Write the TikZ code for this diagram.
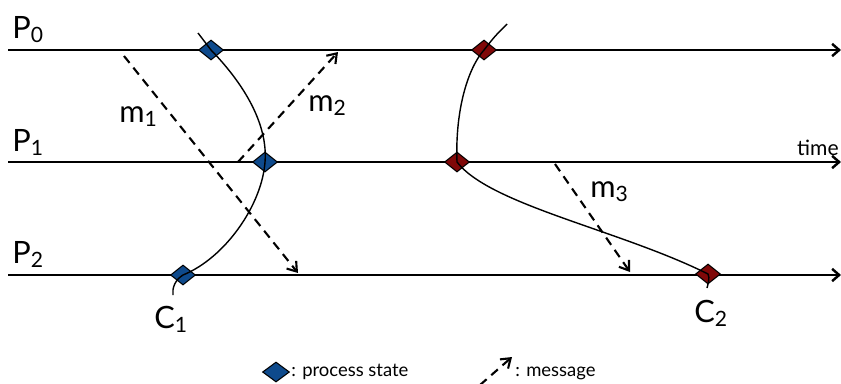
\documentclass[tikz,border=0pt]{standalone}
\usepackage{fontspec}
\setmainfont{Lato}
\usetikzlibrary{shapes.geometric,arrows.meta}
\definecolor{zustblau}{RGB}{14,74,140}
\definecolor{zustrot}{RGB}{128,8,8}
\newcommand{\idx}[1]{\raisebox{-0.3ex}{\fontsize{12}{12}\selectfont #1}}
\tikzset{
  prozess/.style={line width=1.4pt, -{Straight Barb[length=4pt,width=7pt]}},
  zustand/.style={diamond, draw=black, line width=0.6pt, inner sep=0pt,
    minimum width=0.5cm, minimum height=0.4cm},
  nachricht/.style={dash pattern=on 5pt off 3.5pt, line width=1.2pt,
    -{Straight Barb[length=5pt,width=7pt]}},
  schnitt/.style={line width=0.8pt},
  beschr/.style={anchor=base west, inner sep=0pt, font=\fontsize{17.5}{17.5}\selectfont},
  legende/.style={anchor=base west, inner sep=0pt, font=\fontsize{10.5}{10.5}\selectfont},
}
\begin{document}
\begin{tikzpicture}[x=0.02cm, y=-0.02cm]
    \useasboundingbox (0,0) rectangle (841,383);
    \clip (0,0) rectangle (841,383);
    % Prozesslinien:
    \coordinate (p0a) at (8,50);  \coordinate (p0b) at (841,50);
    \coordinate (p1a) at (8,162); \coordinate (p1b) at (841,162);
    \coordinate (p2a) at (8,275); \coordinate (p2b) at (841,275);
    \draw[prozess] (p0a) -- (p0b);
    \draw[prozess] (p1a) -- (p1b);
    \draw[prozess] (p2a) -- (p2b);
    \node[beschr] (lp0) at (12,38) {P\idx{0}};
    \node[beschr] (lp1) at (12,151) {P\idx{1}};
    \node[beschr] (lp2) at (12,263) {P\idx{2}};
    \node[anchor=base east, inner sep=0pt, font=\fontsize{12}{12}\selectfont] (zeit) at (839,155) {time};
    % Nachrichten:
    \coordinate (m1a) at (124,56);  \coordinate (m1b) at (298,273);
    \coordinate (m2a) at (238,162); \coordinate (m2b) at (338,52);
    \coordinate (m3a) at (555,164); \coordinate (m3b) at (630,272);
    \draw[nachricht] (m1a) -- (m1b);
    \draw[nachricht] (m2a) -- (m2b);
    \draw[nachricht] (m3a) -- (m3b);
    \node[beschr] (lm1) at (119,122) {m\idx{1}};
    \node[beschr] (lm2) at (308,111) {m\idx{2}};
    \node[beschr] (lm3) at (590,197) {m\idx{3}};
    % Zustaende:
    \node[zustand, fill=zustblau] (b0) at (211,50) {};
    \node[zustand, fill=zustblau] (b1) at (265,162) {};
    \node[zustand, fill=zustblau] (b2) at (183,275) {};
    \node[zustand, fill=zustrot] (r0) at (484,50) {};
    \node[zustand, fill=zustrot] (r1) at (457,162) {};
    \node[zustand, fill=zustrot] (r2) at (708,274) {};
    % Schnitte:
    \coordinate (c1o) at (198,33);  \coordinate (c1u) at (173,295);
    \coordinate (c2o) at (507,24);  \coordinate (c2u) at (707,288);
    \draw[schnitt] (c1o) -- (b0.center)
        .. controls (245,85) and (268,125) .. (b1.center)
        .. controls (262,205) and (225,258) .. (b2.center)
        .. controls (175,280) and (172,288) .. (c1u);
    \draw[schnitt] (c2o) .. controls (495,36) .. (r0.center)
        .. controls (468,68) and (455,110) .. (r1.center)
        .. controls (490,205) and (620,230) .. (r2.center)
        .. controls (710,278) and (708,284) .. (c2u);
    \node[beschr] (lc1) at (154,328) {C\idx{1}};
    \node[beschr] (lc2) at (694,322) {C\idx{2}};
    % Legende:
    \node[zustand, fill=zustblau, minimum width=0.54cm] (lgz) at (276,372) {};
    \node[legende] (lgzt) at (291,376) {: process state};
    \coordinate (lgna) at (480,385); \coordinate (lgnb) at (512,357);
    \draw[nachricht] (lgna) -- (lgnb);
    \node[legende] (lgnt) at (515,376) {: message};
\end{tikzpicture}
\end{document}
